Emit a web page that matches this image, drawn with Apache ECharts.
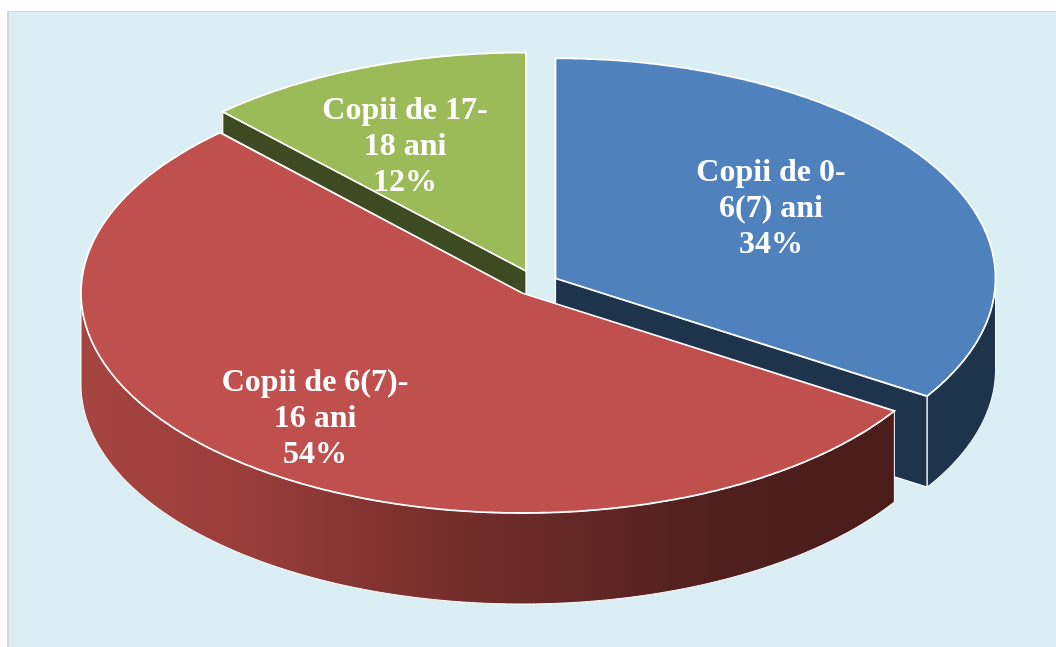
<!DOCTYPE html>
<html>
<head>
<meta charset="utf-8">
<style>html,body{margin:0;padding:0;background:#fff}#c{width:1056px;height:647px}</style>
<script src="https://cdn.jsdelivr.net/npm/echarts@6/dist/echarts.min.js"></script>
</head>
<body>
<div id="c"></div>
<script>
// Data
var categories = ['Copii de 0-\n6(7) ani', 'Copii de 6(7)-\n16 ani', 'Copii de 17-\n18 ani'];
var shares = [34, 54, 12];

// Layout and style per slice
var centerX = [555.5, 522, 526];
var centerY = [278.3, 293, 271];
var radiusX = [440, 441, 443];
var radiusY = [220, 220, 218.5];
var labelX = [771, 315, 405];
var labelY = [209, 419, 147];
var paintOrder = [1, 3, 2];
var topColors = ['#4F81BD', '#C0504D', '#9BBB59'];
var faceColors = ['#1D344C', '#4A1C1A', '#3E4A21'];
var depth = 91;
var startDeg = 0;

var total = shares.reduce(function (a, b) { return a + b; }, 0);

function rim(i, deg, drop) {
  var r = deg * Math.PI / 180;
  return [centerX[i] + radiusX[i] * Math.sin(r), centerY[i] - radiusY[i] * Math.cos(r) + drop];
}
function arc(i, from, to, drop) {
  var pts = [], n = Math.max(2, Math.ceil(Math.abs(to - from) * 2));
  for (var k = 0; k <= n; k++) pts.push(rim(i, from + (to - from) * k / n, drop));
  return pts;
}

function renderItem(params, api) {
  var i = params.dataIndex;
  var before = 0;
  for (var j = 0; j < i; j++) before += shares[j];
  var a0 = startDeg + before / total * 360;
  var a1 = a0 + api.value(0) / total * 360;
  var z = paintOrder[i] * 10;
  var children = [];
  var apex = [centerX[i], centerY[i]];

  // outer wall: only the front half of the rim can be seen
  var from = Math.max(a0, 90), to = Math.min(a1, 270);
  if (to > from) {
    var wall = arc(i, from, to, 0).concat(arc(i, to, from, depth));
    var fill = faceColors[i];
    if (i === 1) {
      fill = new echarts.graphic.LinearGradient(0, 0, 1, 0, [
        { offset: 0, color: '#A64441' },
        { offset: 0.2, color: '#9A3E3A' },
        { offset: 0.38, color: '#7F3230' },
        { offset: 0.6, color: '#632826' },
        { offset: 0.8, color: '#4F1F1D' },
        { offset: 1, color: '#4A1C1A' }
      ]);
    }
    children.push({ type: 'polygon', z2: z, shape: { points: wall },
      style: { fill: fill, stroke: '#fff', lineWidth: 1 } });
  }
  // cut face that looks toward the viewer
  var edge = i === 0 ? a1 : (i === 2 ? a0 : null);
  if (edge !== null) {
    var p = rim(i, edge, 0);
    children.push({ type: 'polygon', z2: z + 1, shape: {
      points: [apex, p, [p[0], p[1] + depth], [apex[0], apex[1] + depth]] },
      style: { fill: faceColors[i], stroke: '#fff', lineWidth: 1.2 } });
  }
  // top face
  children.push({ type: 'polygon', z2: z + 2, shape: { points: [apex].concat(arc(i, a0, a1, 0)) },
    style: { fill: topColors[i], stroke: '#fff', lineWidth: 1.8, lineJoin: 'miter' } });
  // label
  children.push({ type: 'text', z2: 100, x: labelX[i], y: labelY[i], style: {
    text: categories[i] + '\n' + api.value(0) + '%',
    fill: '#fff', font: 'bold 32px "Liberation Serif"', lineHeight: 36,
    align: 'center', verticalAlign: 'middle' } });
  return { type: 'group', children: children };
}

var chart = echarts.init(document.getElementById('c'), null, { renderer: 'canvas' });
chart.setOption({
  animation: false,
  backgroundColor: '#ffffff',
  graphic: [
    { type: 'rect', z: 0, shape: { x: 7, y: 11, width: 1049, height: 636 }, style: { fill: '#D6D6D6' } },
    { type: 'rect', z: 1, shape: { x: 9, y: 12, width: 1047, height: 635 }, style: { fill: '#DBEEF4' } }
  ],
  series: [{
    type: 'custom',
    coordinateSystem: 'none',
    renderItem: renderItem,
    encode: { value: 0 },
    silent: true,
    z: 5,
    data: shares.map(function (v) { return [v]; })
  }]
});
</script>
</body>
</html>
